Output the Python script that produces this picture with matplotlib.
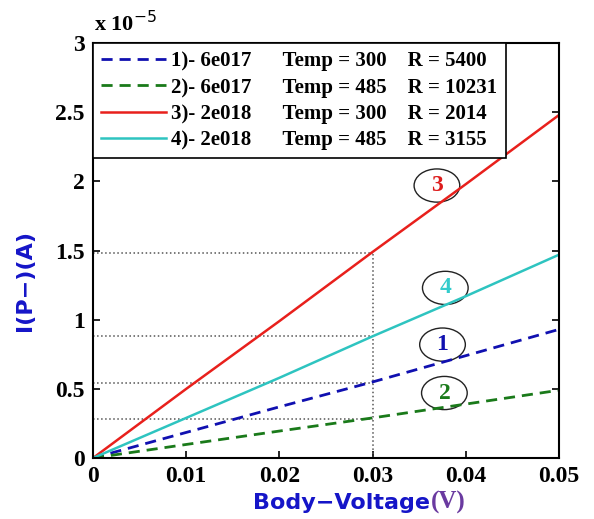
import numpy as np
import matplotlib.pyplot as plt
from matplotlib.patches import Ellipse

# body voltage (V) and drain current, in units of 1e-5 A
volt = [0.0, 0.01, 0.02, 0.03, 0.04, 0.05]
i_1 = [0.0, 0.185, 0.37, 0.55, 0.74, 0.93]
i_2 = [0.0, 0.098, 0.195, 0.29, 0.39, 0.49]
i_3 = [0.0, 0.50, 0.99, 1.49, 1.98, 2.48]
i_4 = [0.0, 0.29, 0.58, 0.88, 1.17, 1.47]

labels = ['1)- 6e017      Temp = 300    R = 5400',
          '2)- 6e017      Temp = 485    R = 10231',
          '3)- 2e018      Temp = 300    R = 2014',
          '4)- 2e018      Temp = 485    R = 3155']

# guide lines at V = 0.03
guide_v = 0.03
guide_i = [1.48, 0.88, 0.54, 0.28]

# curve tags: number, x, y, colour
tags = [('3', 0.0369, 1.97, '#dd1c1c'),
        ('4', 0.0378, 1.23, '#33cccc'),
        ('1', 0.0375, 0.82, '#1010b0'),
        ('2', 0.0377, 0.47, '#1a7a1a')]

serif = 'Liberation Serif'

fig = plt.figure(figsize=(5.94, 5.19), dpi=100)
ax = fig.add_axes([0.1566, 0.1175, 0.7845, 0.7995])

for y in guide_i:
    ax.plot([0, guide_v], [y, y], ':', color='#555555', lw=1.1)
ax.plot([guide_v, guide_v], [0, guide_i[0]], ':', color='#555555', lw=1.1)

ax.plot(volt, i_1, '--', color='#1010b0', lw=2, dashes=(4, 2.5), label=labels[0])
ax.plot(volt, i_2, '--', color='#1a7a1a', lw=2, dashes=(4, 2.5), label=labels[1])
ax.plot(volt, i_3, '-', color='#e8201c', lw=1.8, label=labels[2])
ax.plot(volt, i_4, '-', color='#2ec4c0', lw=1.8, label=labels[3])

for t, x, y, c in tags:
    ax.add_patch(Ellipse((x, y), 0.0049, 0.24, fill=False, ec='#222222', lw=1))
    ax.text(x, y, t, color=c, ha='center', va='center',
            fontsize=17, fontweight='bold', family=serif)

ax.set_xlim(0, 0.05)
ax.set_ylim(0, 3)
ax.set_xticks(np.arange(0, 0.051, 0.01))
ax.set_xticklabels(['0', '0.01', '0.02', '0.03', '0.04', '0.05'])
ax.set_yticks(np.arange(0, 3.01, 0.5))
ax.set_yticklabels(['0', '0.5', '1', '1.5', '2', '2.5', '3'])
ax.tick_params(direction='in', length=5, width=1.2, top=True, right=True,
               labelsize=17, pad=6)
for lab in ax.get_xticklabels() + ax.get_yticklabels():
    lab.set_family(serif)
    lab.set_fontweight('bold')
for s in ax.spines.values():
    s.set_linewidth(1.5)

leg = ax.legend(loc='upper left', bbox_to_anchor=(0, 1), borderaxespad=0,
                fancybox=False, handlelength=3.1, handletextpad=0.25,
                labelspacing=0.3, borderpad=0.4,
                prop={'family': serif, 'weight': 'bold', 'size': 15})
leg.get_frame().set_edgecolor('black')
leg.get_frame().set_linewidth(1.2)
leg.get_frame().set_alpha(1)

fig.text(0.158, 0.955, r'x 10$^{-5}$', family=serif, fontweight='bold',
         fontsize=16, ha='left', va='center')

fig.text(0.042, 0.459, 'I(P\u2212)(A)', color='#1515c8', fontsize=16,
         fontweight='bold', family='DejaVu Sans', rotation=90,
         ha='center', va='center')
fig.text(0.724, 0.031, 'Body\u2212Voltage', color='#1515c8', fontsize=16,
         fontweight='bold', family='DejaVu Sans', ha='right', va='center')
fig.text(0.726, 0.031, '(V)', color='#6a3aa0', fontsize=18,
         fontweight='bold', family=serif, ha='left', va='center')

fig.savefig('out.png', dpi=100)
